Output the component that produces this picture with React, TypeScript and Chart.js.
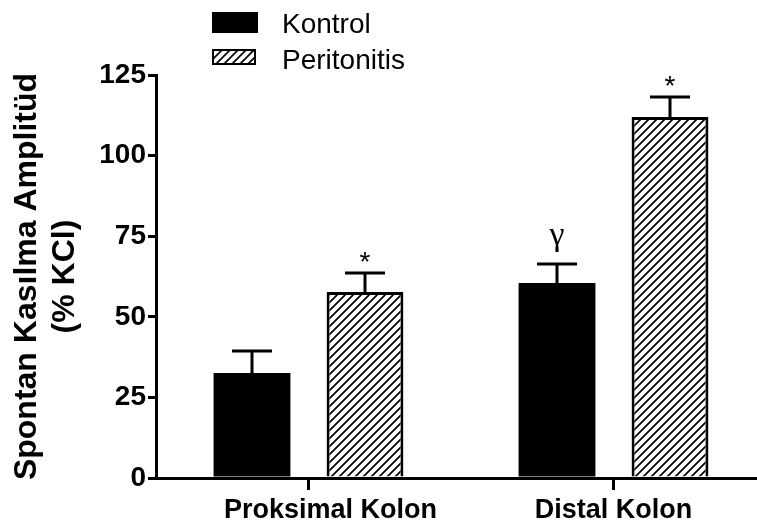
import React, { useEffect, useRef } from 'react';
import { Chart, registerables } from 'chart.js';

Chart.register(...registerables);

// ---- data ----
const categories = ['Proksimal Kolon', 'Distal Kolon'];
const seriesNames = ['Kontrol', 'Peritonitis'];
const kontrolValues = [32.6, 60.5];
const kontrolErrors = [6.8, 5.9];
const peritonitisValues = [57.7, 112.0];
const peritonitisErrors = [5.9, 6.2];
const kontrolMarks = ['', 'γ'];
const peritonitisMarks = ['*', '*'];
const yTicks = [0, 25, 50, 75, 100, 125];
const yTitle = ['Spontan Kasılma Amplitüd', '(% KCl)'];

const SANS = '"Liberation Sans", Arial, Helvetica, sans-serif';
const SERIF = '"Liberation Serif", "Times New Roman", serif';

function makeHatch(): CanvasPattern | string {
  const c = document.createElement('canvas');
  c.width = 8;
  c.height = 8;
  const g = c.getContext('2d');
  if (!g) return '#fff';
  g.fillStyle = '#fff';
  g.fillRect(0, 0, 8, 8);
  g.strokeStyle = '#000';
  g.lineWidth = 1.7;
  g.beginPath();
  g.moveTo(-2, 10);
  g.lineTo(10, -2);
  g.moveTo(-6, 6);
  g.lineTo(6, -6);
  g.moveTo(2, 14);
  g.lineTo(14, 2);
  g.stroke();
  return g.createPattern(c, 'repeat') || '#fff';
}

export default function App() {
  const ref = useRef<HTMLCanvasElement | null>(null);

  useEffect(() => {
    document.body.style.margin = '0';
    const canvas = ref.current;
    if (!canvas) return;
    const hatch = makeHatch();

    const sets = [
      { v: kontrolValues, e: kontrolErrors, m: kontrolMarks },
      { v: peritonitisValues, e: peritonitisErrors, m: peritonitisMarks },
    ];

    const overlay = {
      id: 'overlay',
      afterDatasetsDraw(chart: any) {
        const ctx = chart.ctx as CanvasRenderingContext2D;
        const ys = chart.scales.y;
        ctx.save();
        ctx.strokeStyle = '#000';
        ctx.fillStyle = '#000';
        ctx.lineWidth = 3;
        sets.forEach((s, di) => {
          const meta = chart.getDatasetMeta(di);
          meta.data.forEach((el: any, i: number) => {
            const cx = el.x;
            const top = ys.getPixelForValue(s.v[i]);
            const yE = ys.getPixelForValue(s.v[i] + s.e[i]);
            ctx.beginPath();
            ctx.moveTo(cx, top);
            ctx.lineTo(cx, yE);
            ctx.moveTo(cx - 20, yE);
            ctx.lineTo(cx + 20, yE);
            ctx.stroke();
            const mk = s.m[i];
            if (mk) {
              ctx.textAlign = 'center';
              ctx.textBaseline = 'alphabetic';
              if (mk === '*') {
                ctx.font = `28px ${SANS}`;
                ctx.fillText(mk, cx, yE - 2);
              } else {
                ctx.font = `34px ${SERIF}`;
                ctx.fillText(mk, cx, yE - 19);
              }
            }
          });
        });
        ctx.restore();
      },
      afterDraw(chart: any) {
        const ctx = chart.ctx as CanvasRenderingContext2D;
        const xs = chart.scales.x;
        const area = chart.chartArea;
        ctx.save();
        ctx.fillStyle = '#000';
        // category labels
        const shift = [22, 0];
        ctx.font = `bold 27px ${SANS}`;
        ctx.textAlign = 'center';
        ctx.textBaseline = 'alphabetic';
        categories.forEach((c, i) => {
          ctx.fillText(c, xs.getPixelForTick(i) + shift[i], area.bottom + 40);
        });
        // legend
        ctx.fillRect(212, 12, 46, 21);
        ctx.fillStyle = hatch as any;
        ctx.fillRect(213, 50, 42, 14);
        ctx.strokeStyle = '#000';
        ctx.lineWidth = 2;
        ctx.strokeRect(213, 50, 42, 14);
        ctx.fillStyle = '#000';
        ctx.font = `28px ${SANS}`;
        ctx.textAlign = 'left';
        ctx.fillText(seriesNames[0], 282, 33);
        ctx.fillText(seriesNames[1], 282, 69);
        ctx.restore();
      },
    };

    const chart = new Chart(canvas, {
      type: 'bar',
      data: {
        labels: categories,
        datasets: [
          {
            label: seriesNames[0],
            data: kontrolValues,
            backgroundColor: '#000',
            borderColor: '#000',
            borderWidth: 0,
            barPercentage: 0.68,
            categoryPercentage: 0.741,
          },
          {
            label: seriesNames[1],
            data: peritonitisValues,
            backgroundColor: hatch as any,
            borderColor: '#000',
            borderWidth: 3,
            barPercentage: 0.68,
            categoryPercentage: 0.741,
          },
        ],
      },
      options: {
        responsive: false,
        animation: false,
        devicePixelRatio: 1,
        layout: { padding: { top: 75, left: 0, right: 0, bottom: 0 } },
        plugins: {
          legend: { display: false },
          tooltip: { enabled: false },
        },
        scales: {
          x: {
            type: 'category',
            offset: true,
            grid: {
              display: true,
              drawOnChartArea: false,
              offset: false,
              color: '#000',
              lineWidth: 3,
              tickLength: 12,
            },
            border: { display: true, color: '#000', width: 3 },
            ticks: { display: false },
            afterFit: (s: any) => {
              s.height = 51;
            },
          },
          y: {
            min: 0,
            max: 125,
            afterBuildTicks: (s: any) => {
              s.ticks = yTicks.map((v) => ({ value: v }));
            },
            grid: {
              drawOnChartArea: false,
              color: '#000',
              lineWidth: 3,
              tickLength: 8,
            },
            border: { display: true, color: '#000', width: 3 },
            ticks: {
              color: '#000',
              padding: 2,
              font: { family: SANS, size: 28, weight: 'bold' },
            },
            title: {
              display: true,
              text: yTitle,
              color: '#000',
              font: { family: SANS, size: 32, weight: 'bold', lineHeight: 1.2 },
              padding: { top: 8, bottom: 0 },
            },
            afterFit: (s: any) => {
              s.width = 156;
            },
          },
        },
      } as any,
      plugins: [overlay],
    });

    return () => chart.destroy();
  }, []);

  return (
    <div
      style={{
        position: 'fixed',
        left: 0,
        top: 0,
        width: 757,
        height: 529,
        overflow: 'hidden',
        background: '#fff',
      }}
    >
      <canvas
        ref={ref}
        width={766}
        height={529}
        style={{ width: 766, height: 529, display: 'block' }}
      />
    </div>
  );
}
